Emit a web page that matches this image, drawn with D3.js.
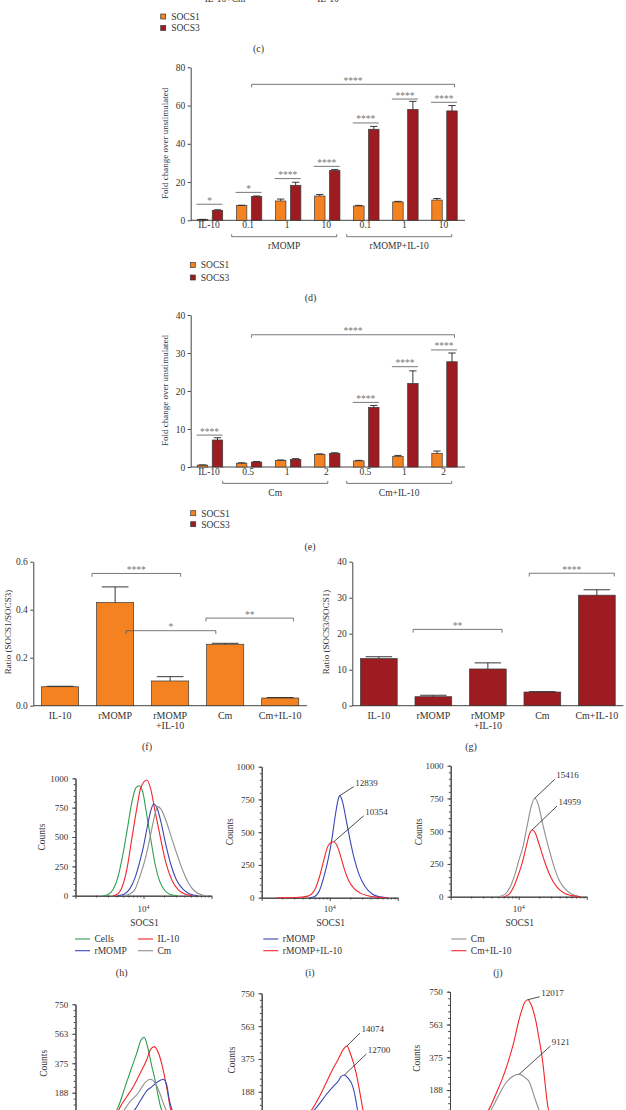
<!DOCTYPE html>
<meta charset="utf-8">
<style>
body { margin: 0; background: #fff; }
svg { display: block; font-family: "Liberation Serif", "DejaVu Serif", serif; }
text { fill: #333; }
.stars { fill: #777; }
.rule { fill: none; stroke: #555; stroke-width: 0.8px; }
.axisline { stroke: #444; stroke-width: 1px; }
.bar { stroke: #3a3a3a; stroke-width: 0.7px; }
.err { fill: none; stroke: #222; stroke-width: 0.9px; }
.curve { fill: none; stroke-width: 1.1px; }
.leader { stroke: #222; stroke-width: 0.8px; }
</style>
<svg width="626" height="1110"></svg>
<script src="https://d3js.org/d3.v7.min.js"></script>
<script>

var svg = d3.select("svg");

var series = ["SOCS1", "SOCS3"];
var seriesFill = ["#f58220", "#9d1c21"];

// tail of panel (c), cut by the top edge
var cTail = ["IL-10+Cm", "IL-10"];

// (d) rMOMP doses
var dDoses = ["IL-10", "0.1", "1", "10", "0.1", "1", "10"];
var dSocs1 = [0.4, 7.7, 10.1, 12.7, 7.5, 9.6, 10.6];
var dSocs1Err = [0.1, 0.2, 1.0, 0.8, 0.3, 0.3, 0.8];
var dSocs3 = [5.2, 12.4, 18.3, 26.0, 47.6, 58.0, 57.2];
var dSocs3Err = [0.3, 0.3, 1.6, 0.5, 1.5, 4.2, 2.8];
var dPairSig = [[0, 8.4, "*"], [1, 14.6, "*"], [2, 21.8, "****"], [3, 28.2, "****"], [4, 50.9, "****"], [5, 63.4, "****"], [6, 61.7, "****"]];
var dSpanSig = [1, 6, 71.1, "****"];
var dGroups = [[1, 3, "rMOMP"], [4, 6, "rMOMP+IL-10"]];
var dTicks = [0, 20, 40, 60, 80];

// (e) Cm doses
var eDoses = ["IL-10", "0.5", "1", "2", "0.5", "1", "2"];
var eSocs1 = [0.5, 1.0, 1.7, 3.3, 1.6, 2.8, 3.6];
var eSocs1Err = [0.05, 0.1, 0.15, 0.15, 0.15, 0.25, 0.6];
var eSocs3 = [7.1, 1.3, 2.0, 3.6, 15.7, 22.0, 27.7];
var eSocs3Err = [0.6, 0.15, 0.2, 0.15, 0.5, 3.3, 2.3];
var ePairSig = [[0, 8.4, "****"], [4, 17.0, "****"], [5, 26.4, "****"], [6, 30.8, "****"]];
var eSpanSig = [1, 6, 34.8, "****"];
var eGroups = [[1, 3, "Cm"], [4, 6, "Cm+IL-10"]];
var eTicks = [0, 10, 20, 30, 40];

// (f) and (g) ratios
var treatments = ["IL-10", "rMOMP", "rMOMP|+IL-10", "Cm", "Cm+IL-10"];
var fRatio = [0.079, 0.43, 0.103, 0.256, 0.032];
var fRatioErr = [0.002, 0.065, 0.018, 0.004, 0.002];
var fSig = [[1, 2, 0.551, "****"], [1, 3, 0.3125, "*"], [3, 4, 0.365, "**"]];
var fTicks = [0, 0.2, 0.4, 0.6];
var gRatio = [13.1, 2.5, 10.2, 3.8, 30.7];
var gRatioErr = [0.5, 0.4, 1.7, 0.1, 1.5];
var gSig = [[1, 2, 21.2, "**"], [3, 4, 36.8, "****"]];
var gTicks = [0, 10, 20, 30, 40];

// flow histograms, points are [log10 intensity, counts]
var hCells = [[3.40,0],[3.48,10],[3.55,50],[3.62,150],[3.69,330],[3.76,560],[3.83,800],[3.89,920],[3.94,937],[3.99,880],[4.05,680],[4.11,470],[4.17,270],[4.24,120],[4.32,40],[4.41,8],[4.50,0]];
var hIl10 = [[3.55,0],[3.62,15],[3.69,80],[3.76,240],[3.83,490],[3.90,740],[3.96,920],[4.05,986],[4.11,900],[4.17,720],[4.25,490],[4.33,280],[4.42,130],[4.52,45],[4.62,12],[4.72,0]];
var hRmomp = [[3.62,0],[3.72,15],[3.80,60],[3.88,160],[3.95,300],[4.00,420],[4.06,600],[4.11,730],[4.15,781],[4.20,745],[4.26,620],[4.33,430],[4.40,270],[4.48,140],[4.58,55],[4.68,15],[4.80,0]];
var hCm = [[3.70,0],[3.80,15],[3.88,60],[3.95,170],[4.02,300],[4.08,450],[4.14,620],[4.18,720],[4.21,759],[4.26,735],[4.33,640],[4.42,480],[4.50,340],[4.58,210],[4.66,110],[4.75,40],[4.85,8],[4.92,0]];

var iRmomp = [[3.70,0],[3.78,10],[3.85,55],[3.92,170],[3.98,300],[4.03,440],[4.08,620],[4.12,740],[4.147,779],[4.19,730],[4.24,600],[4.30,440],[4.36,300],[4.43,180],[4.52,85],[4.62,30],[4.72,8],[4.84,0]];
var iRmompIl10 = [[3.22,0],[3.50,2],[3.68,12],[3.78,60],[3.85,160],[3.91,280],[3.97,390],[4.02,422],[4.06,427],[4.11,395],[4.17,300],[4.22,210],[4.28,130],[4.36,70],[4.45,35],[4.56,15],[4.70,4],[4.85,0]];
var iPeaks = ["12839", "10354"];

var jCm = [[3.70,0],[3.80,20],[3.88,80],[3.95,180],[4.01,290],[4.06,375],[4.12,530],[4.18,680],[4.235,751],[4.29,700],[4.35,560],[4.44,375],[4.52,230],[4.60,120],[4.70,50],[4.80,15],[4.91,0]];
var jCmIl10 = [[3.78,0],[3.86,20],[3.93,80],[3.99,160],[4.05,255],[4.11,380],[4.16,480],[4.196,509],[4.24,490],[4.30,400],[4.39,255],[4.47,150],[4.56,75],[4.66,30],[4.78,8],[4.91,0]];
var jPeaks = ["15416", "14959"];

var kCells = [[3.40,0],[3.55,40],[3.63,99],[3.73,226],[3.82,340],[3.90,438],[3.96,520],[4.01,540],[4.06,480],[4.12,360],[4.17,268],[4.25,100],[4.32,30],[4.40,0]];
var kIl10 = [[3.45,0],[3.60,50],[3.66,99],[3.75,160],[3.85,226],[3.95,310],[4.05,400],[4.10,460],[4.157,481],[4.22,440],[4.29,332],[4.35,200],[4.39,99],[4.45,30],[4.55,0]];
var kRmomp = [[3.55,0],[3.70,30],[3.80,50],[3.87,78],[3.96,141],[4.06,205],[4.12,225],[4.20,255],[4.29,273],[4.34,240],[4.38,141],[4.43,67],[4.50,20],[4.60,0]];
var kCm = [[3.45,0],[3.60,40],[3.70,70],[3.80,130],[3.92,184],[4.02,250],[4.10,273],[4.17,250],[4.24,184],[4.31,100],[4.38,40],[4.48,0]];

var lRmompIl10 = [[3.40,0],[3.60,40],[3.75,93],[3.85,160],[3.945,236],[4.05,320],[4.12,369],[4.20,430],[4.254,449],[4.30,410],[4.39,293],[4.45,170],[4.49,83],[4.55,30],[4.65,0]];
var lRmomp = [[3.40,0],[3.60,35],[3.75,74],[3.85,120],[3.945,169],[4.07,226],[4.12,245],[4.17,275],[4.215,283],[4.27,265],[4.34,217],[4.38,150],[4.41,83],[4.46,30],[4.55,0]];
var lPeaks = ["14074", "12700"];

var mCmIl10 = [[3.40,0],[3.50,40],[3.58,83],[3.68,170],[3.78,263],[3.92,434],[4.04,625],[4.10,690],[4.143,704],[4.20,670],[4.26,587],[4.31,480],[4.36,359],[4.40,220],[4.44,92],[4.50,30],[4.60,0]];
var mCm = [[3.45,0],[3.55,45],[3.63,92],[3.72,160],[3.82,228],[3.92,265],[4.02,279],[4.10,260],[4.17,231],[4.24,150],[4.31,74],[4.38,25],[4.48,0]];
var mPeaks = ["12017", "9121"];

var green = "#2f9d4e", red = "#f2262b", blue = "#3a47b4", gray = "#8f8f8f";

function tidy(sel, size) {
  sel.attr("font-family", null).attr("font-size", size);
  sel.select(".domain").attr("stroke", "#444");
  sel.selectAll(".tick line").attr("stroke", "#444");
  sel.selectAll(".tick text").attr("fill", "#333");
}

function label(x, y, txt, size) {
  return svg.append("text").attr("x", x).attr("y", y).attr("dy", "0.35em")
      .attr("text-anchor", "middle").attr("font-size", size || 10).text(txt);
}

function barLegend(x, ys) {
  series.forEach(function(s, i) {
    svg.append("rect").attr("class", "bar").attr("x", x).attr("y", ys[i] - 2.5)
        .attr("width", 5).attr("height", 5).attr("fill", seriesFill[i]);
    svg.append("text").attr("x", x + 10.5).attr("y", ys[i]).attr("dy", "0.35em")
        .attr("font-size", 9.5).text(s);
  });
}

function doseChart(p) {
  var x = d3.scalePoint().domain(d3.range(p.doses.length)).range([210, 444.5]);
  var pair = d3.scaleBand().domain(series).range([-12.7, 12.7]).paddingInner(0.3);
  var bw = pair.bandwidth();
  var y = d3.scaleLinear().domain([0, d3.max(p.ticks)]).range([p.base, p.top]);
  var g = svg.append("g");

  g.append("g")
      .attr("transform", "translate(190.7,0)")
      .call(d3.axisLeft(y).tickValues(p.ticks).tickSize(3).tickSizeOuter(0).tickPadding(2.5))
      .call(tidy, 9.5);

  g.append("line").attr("class", "axisline")
      .attr("x1", 190.7).attr("x2", 465)
      .attr("y1", y(0)).attr("y2", y(0));

  var rows = [];
  p.values.forEach(function(vals, si) {
    vals.forEach(function(v, i) {
      rows.push({i: i, s: series[si], fill: seriesFill[si], v: v, e: p.errors[si][i]});
    });
  });

  g.selectAll(".bar").data(rows).join("rect")
      .attr("class", "bar")
      .attr("x", function(d) { return x(d.i) + pair(d.s); })
      .attr("y", function(d) { return y(d.v); })
      .attr("width", bw)
      .attr("height", function(d) { return y(0) - y(d.v); })
      .attr("fill", function(d) { return d.fill; });

  g.selectAll(".err").data(rows).join("path")
      .attr("class", "err")
      .attr("d", function(d) {
        var cx = x(d.i) + pair(d.s) + bw / 2, top = y(d.v + d.e);
        return "M" + cx + "," + y(d.v) + "V" + top + "M" + (cx - bw * 0.35) + "," + top + "H" + (cx + bw * 0.35);
      });

  g.selectAll(".pairsig").data(p.pairSig).join("path")
      .attr("class", "rule pairsig")
      .attr("d", function(d) { return "M" + (x(d[0]) - 13.5) + "," + y(d[1]) + "H" + (x(d[0]) + 12.5); });
  g.selectAll(".pairstar").data(p.pairSig).join("text")
      .attr("class", "stars pairstar")
      .attr("x", function(d) { return x(d[0]) - 0.5; })
      .attr("y", function(d) { return y(d[1]) - 0.5; })
      .attr("text-anchor", "middle").attr("font-size", 9.5)
      .text(function(d) { return d[2]; });

  var s = p.span, sy = y(s[2]), sx1 = x(s[0]) + 2.5, sx2 = x(s[1]) + 10;
  g.append("path").attr("class", "rule")
      .attr("d", "M" + sx1 + "," + (sy + 3) + "V" + sy + "H" + sx2 + "V" + (sy + 3));
  g.append("text").attr("class", "stars")
      .attr("x", (sx1 + sx2) / 2).attr("y", sy - 0.5)
      .attr("text-anchor", "middle").attr("font-size", 9.5).text(s[3]);

  g.selectAll(".dose").data(p.doses).join("text")
      .attr("class", "dose")
      .attr("x", function(d, i) { return x(i) - 1; })
      .attr("y", p.base + 8)
      .attr("text-anchor", "middle").attr("font-size", 9.5)
      .text(function(d) { return d; });

  p.groups.forEach(function(nm, k) {
    var ends = p.groupEnds[k];
    var bx1 = x(nm[0]) + ends[0], bx2 = x(nm[1]) + ends[1], by = p.base + 16.4;
    g.append("path").attr("class", "rule")
        .attr("d", "M" + bx1 + "," + (by - 2.5) + "V" + by + "H" + bx2 + "V" + (by - 2.5));
    g.append("text").attr("x", (bx1 + bx2) / 2).attr("y", p.base + 29)
        .attr("text-anchor", "middle").attr("font-size", 9.5).text(nm[2]);
  });

  g.append("text")
      .attr("transform", "translate(165," + ((p.base + p.top) / 2 - 0.5) + ") rotate(-90)")
      .attr("text-anchor", "middle").attr("dy", "0.35em").attr("font-size", 9)
      .text("Fold change over unstimulated");
}

function ratioChart(p) {
  var x = d3.scaleBand().domain(d3.range(treatments.length))
      .range([p.left, p.right]).paddingInner(0.326).paddingOuter(0.15);
  var y = d3.scaleLinear().domain([0, d3.max(p.ticks)]).range([705.7, 561.7]);
  var bw = x.bandwidth(), step = x.step();
  var g = svg.append("g");

  g.append("g")
      .attr("transform", "translate(" + p.left + ",0)")
      .call(d3.axisLeft(y).tickValues(p.ticks).tickSize(3).tickSizeOuter(0).tickPadding(2.5).tickFormat(d3.format(p.format)))
      .call(tidy, 9.5);
  g.append("line").attr("class", "axisline")
      .attr("x1", p.left).attr("x2", p.right)
      .attr("y1", y(0)).attr("y2", y(0));

  g.selectAll(".bar").data(p.values).join("rect")
      .attr("class", "bar")
      .attr("x", function(d, i) { return x(i); })
      .attr("y", function(d) { return y(d); })
      .attr("width", bw)
      .attr("height", function(d) { return y(0) - y(d); })
      .attr("fill", p.fill);

  g.selectAll(".err").data(p.values).join("path")
      .attr("class", "err")
      .attr("d", function(d, i) {
        var cx = x(i) + bw / 2, top = y(d + p.errors[i]);
        return "M" + cx + "," + y(d) + "V" + top + "M" + (cx - bw * 0.36) + "," + top + "H" + (cx + bw * 0.36);
      });

  g.selectAll(".cat").data(treatments).join("text")
      .attr("class", "cat")
      .attr("x", function(d, i) { return x(i) + bw / 2; })
      .attr("y", 718.5)
      .attr("text-anchor", "middle").attr("font-size", 10)
      .each(function(d) {
        var t = d3.select(this);
        d.split("|").forEach(function(part, k) {
          t.append("tspan").attr("x", t.attr("x")).attr("dy", k ? 10 : 0).text(part);
        });
      });

  p.sig.forEach(function(s, k) {
    var e = p.ends[k];
    var x1 = x(s[0]) + bw / 2 + e[0] * step, x2 = x(s[1]) + bw / 2 + e[1] * step, by = y(s[2]);
    g.append("path").attr("class", "rule")
        .attr("d", "M" + x1 + "," + (by + 3.3) + "V" + by + "H" + x2 + "V" + (by + 3.3));
    g.append("text").attr("class", "stars")
        .attr("x", (x1 + x2) / 2).attr("y", by - 0.5)
        .attr("text-anchor", "middle").attr("font-size", 9.5).text(s[3]);
  });

  g.append("text")
      .attr("transform", "translate(" + p.titleX + ",632) rotate(-90)")
      .attr("text-anchor", "middle").attr("dy", "0.35em").attr("font-size", 9)
      .text(p.title);
}

function histogram(p) {
  var x = d3.scaleLog().domain([1e3, 1e5]).range([p.left, p.left + 136]);
  var y = d3.scaleLinear().domain([0, p.max]).range([p.base, p.top]);
  var g = svg.append("g");

  g.append("g").attr("transform", "translate(" + p.left + ",0)")
      .call(d3.axisLeft(y).tickValues(d3.range(0, p.max + 1, p.minor)).tickSize(1.8).tickSizeOuter(0).tickFormat(""))
      .call(tidy, 9);
  g.append("g").attr("transform", "translate(" + p.left + ",0)")
      .call(d3.axisLeft(y).tickValues(p.ticks).tickSize(3.2).tickSizeOuter(0).tickPadding(4).tickFormat(d3.format(".0f")))
      .call(tidy, 9);

  var minorX = [];
  [1e3, 1e4].forEach(function(dec) {
    d3.range(2, 10).forEach(function(m) { minorX.push(m * dec); });
  });
  g.append("g").attr("transform", "translate(0," + p.base + ")")
      .call(d3.axisBottom(x).tickValues(minorX).tickSize(1.8).tickSizeOuter(0).tickFormat(""))
      .call(tidy, 9);
  g.append("g").attr("transform", "translate(0," + p.base + ")")
      .call(d3.axisBottom(x).tickValues([1e3, 1e4, 1e5]).tickSize(3.2).tickSizeOuter(0).tickFormat(""))
      .call(tidy, 9);

  if (p.xLabel) {
    var t = g.append("text").attr("x", x(1e4)).attr("y", 912)
        .attr("text-anchor", "middle").attr("font-size", 9);
    t.append("tspan").text("10");
    t.append("tspan").attr("dy", -3.5).attr("font-size", 6).text("4");
    g.append("text").attr("x", x(1e4) + 1).attr("y", 926)
        .attr("text-anchor", "middle").attr("font-size", 9.5).text("SOCS1");
  }

  var line = d3.line()
      .x(function(d) { return x(Math.pow(10, d[0])); })
      .y(function(d) { return y(d[1]); })
      .curve(d3.curveMonotoneX);

  p.curves.forEach(function(c) {
    g.append("path").datum(c[0]).attr("class", "curve").attr("stroke", c[1]).attr("d", line);
  });

  (p.notes || []).forEach(function(nt) {
    var peak = d3.greatest(nt[0], function(d) { return d[1]; });
    var px = x(Math.pow(10, peak[0])), py = y(peak[1]);
    var ex = px + nt[2], ey = py + nt[3];
    g.append("line").attr("class", "leader")
        .attr("x1", px).attr("y1", py).attr("x2", ex).attr("y2", ey);
    g.append("text").attr("x", ex + 1.5).attr("y", ey - 1)
        .attr("font-size", 9).text(nt[1]);
  });

  g.append("text")
      .attr("transform", "translate(" + p.titleX + "," + p.titleY + ") rotate(-90)")
      .attr("text-anchor", "middle").attr("dy", "0.35em").attr("font-size", 9.5)
      .text("Counts");
}

function lineLegend(x0, colGap, perRow, entries) {
  entries.forEach(function(e, i) {
    var lx = x0 + (i % perRow) * colGap, ly = 939 + Math.floor(i / perRow) * 11.7;
    svg.append("line").attr("x1", lx).attr("x2", lx + 15).attr("y1", ly).attr("y2", ly)
        .attr("stroke", e[1]).attr("stroke-width", 1.1);
    svg.append("text").attr("x", lx + 19.5).attr("y", ly).attr("dy", "0.35em")
        .attr("font-size", 9.5).text(e[0]);
  });
}

// remains of (c)
svg.selectAll(".ctail").data(cTail).join("text")
    .attr("class", "ctail")
    .attr("x", function(d, i) { return [225, 328][i]; })
    .attr("y", 2)
    .attr("text-anchor", "middle").attr("font-size", 9.5)
    .text(function(d) { return d; });
barLegend(160.7, [16.5, 28]);
label(258.5, 48, "(c)");

doseChart({
  doses: dDoses, values: [dSocs1, dSocs3], errors: [dSocs1Err, dSocs3Err],
  pairSig: dPairSig, span: dSpanSig, groups: dGroups, groupEnds: [[-17.4, 9.5], [-19.6, 7.2]],
  ticks: dTicks, base: 220.3, top: 67.3
});
barLegend(190.3, [265, 277.5]);
label(310.5, 297, "(d)");

doseChart({
  doses: eDoses, values: [eSocs1, eSocs3], errors: [eSocs1Err, eSocs3Err],
  pairSig: ePairSig, span: eSpanSig, groups: eGroups, groupEnds: [[-26.4, 0.5], [-19.6, 7.2]],
  ticks: eTicks, base: 467, top: 315
});
barLegend(190.7, [513.2, 524.2]);
label(310, 546.5, "(e)");

ratioChart({
  values: fRatio, errors: fRatioErr, sig: fSig, ticks: fTicks, format: ".1f",
  ends: [[-0.42, 0.19], [0.2, -0.17], [-0.35, 0.24]],
  left: 33.3, right: 307, fill: seriesFill[0], titleX: 8, title: "Ratio (SOCS1/SOCS3)"
});
label(147, 746.5, "(f)");

ratioChart({
  values: gRatio, errors: gRatioErr, sig: gSig, ticks: gTicks, format: "d",
  ends: [[-0.37, 0.26], [-0.24, 0.32]],
  left: 352.3, right: 623.4, fill: seriesFill[1], titleX: 325.5, title: "Ratio (SOCS3/SOCS1)"
});
label(471, 746.5, "(g)");

var countTicks = [0, 250, 500, 750, 1000];
// the zero of the lower row sits below the page edge, so it is not labelled
var countTicksLow = [187.5, 375, 562.5, 750];

histogram({
  left: 75.5, base: 895.7, top: 778.3, max: 1000, ticks: countTicks, minor: 50, xLabel: true,
  curves: [[hCells, green], [hIl10, red], [hRmomp, blue], [hCm, gray]],
  titleX: 41.7, titleY: 837
});
histogram({
  left: 261.7, base: 897.7, top: 766.7, max: 1000, ticks: countTicks, minor: 50, xLabel: true,
  curves: [[iRmomp, blue], [iRmompIl10, red]],
  notes: [[iRmomp, iPeaks[0], 14, -9], [iRmompIl10, iPeaks[1], 30, -26]],
  titleX: 230, titleY: 831.7
});
histogram({
  left: 450.7, base: 896.7, top: 765.7, max: 1000, ticks: countTicks, minor: 50, xLabel: true,
  curves: [[jCm, gray], [jCmIl10, red]],
  notes: [[jCm, jPeaks[0], 20, -19], [jCmIl10, jPeaks[1], 25, -24]],
  titleX: 418.3, titleY: 831.7
});

lineLegend(75, 63, 2, [["Cells", green], ["IL-10", red], ["rMOMP", blue], ["Cm", gray]]);
lineLegend(263.3, 0, 1, [["rMOMP", blue], ["rMOMP+IL-10", red]]);
lineLegend(451.3, 0, 1, [["Cm", gray], ["Cm+IL-10", red]]);
label(121.7, 972.3, "(h)");
label(310, 972.3, "(i)");
label(498, 972.3, "(j)");

histogram({
  left: 75.5, base: 1122.2, top: 1004.3, max: 750, ticks: countTicksLow, minor: 37.5,
  curves: [[kCells, green], [kIl10, red], [kRmomp, blue], [kCm, gray]],
  titleX: 43.3, titleY: 1063.3
});
histogram({
  left: 261.7, base: 1124.6, top: 993.3, max: 750, ticks: countTicksLow, minor: 37.5,
  curves: [[lRmomp, blue], [lRmompIl10, red]],
  notes: [[lRmompIl10, lPeaks[0], 13, -13], [lRmomp, lPeaks[1], 22, -21]],
  titleX: 231.7, titleY: 1060
});
histogram({
  left: 450, base: 1122.9, top: 991.7, max: 750, ticks: countTicksLow, minor: 37.5,
  curves: [[mCm, gray], [mCmIl10, red]],
  notes: [[mCmIl10, mPeaks[0], 12, -3], [mCm, mPeaks[1], 31, -28]],
  titleX: 417, titleY: 1058.3
});

</script>
